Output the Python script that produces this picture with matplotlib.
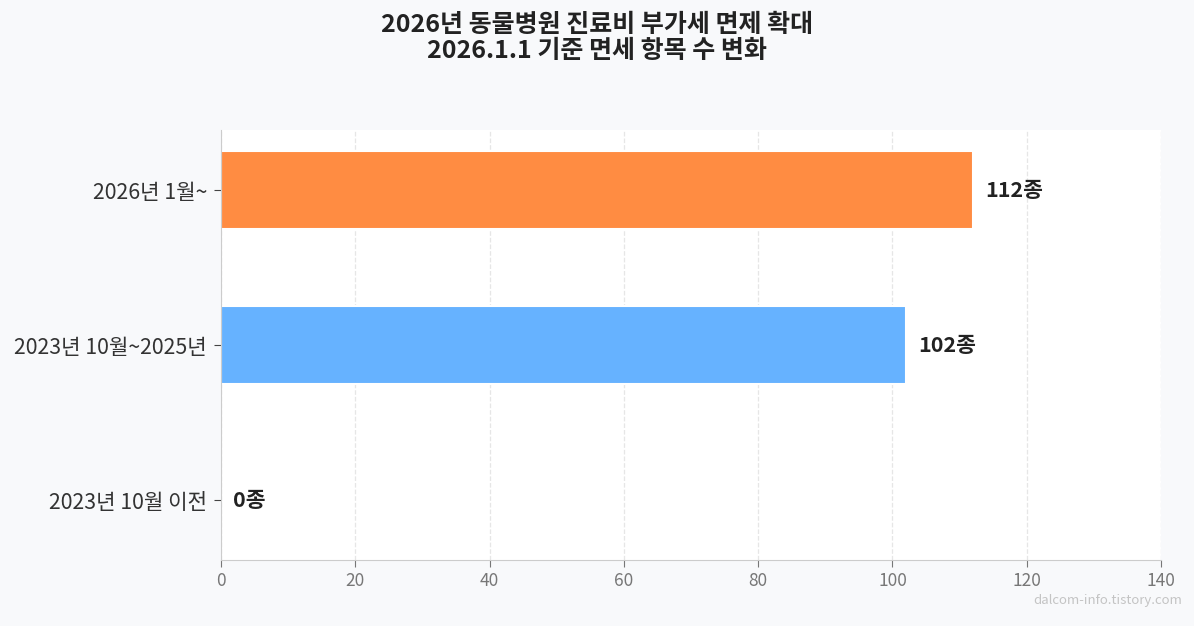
import matplotlib.pyplot as plt

plt.rcParams['font.family'] = ['Noto Sans CJK KR', 'DejaVu Sans']

periods = ["2023년 10월 이전", "2023년 10월~2025년", "2026년 1월~"]
counts = [0, 102, 112]
bar_colors = ["#66B2FF", "#66B2FF", "#FF8C42"]
value_labels = ["0종", "102종", "112종"]

fig = plt.figure(figsize=(11.94, 6.26), dpi=100, facecolor="#F8F9FB")
ax = fig.add_axes([0.1851, 0.1054, 0.7873, 0.6869])
ax.set_facecolor("white")

ypos = range(len(periods))
ax.barh(ypos, counts, height=0.5, color=bar_colors, edgecolor="white",
        linewidth=1.5, zorder=3)

for y, v, lab in zip(ypos, counts, value_labels):
    ax.text(v + 1.8, y, lab, va="center", ha="left", fontsize=15.5,
            fontweight="bold", color="#222222", zorder=4)

ax.set_yticks(list(ypos))
ax.set_yticklabels(periods, fontsize=15.3, color="#333333")
ax.set_xlim(0, 140)
ax.set_ylim(-0.387, 2.387)
ax.set_xticks(range(0, 141, 20))
ax.tick_params(axis="x", labelsize=12.5, colors="#777777", length=5)
ax.tick_params(axis="y", length=5, color="#444444", pad=5)

ax.grid(axis="x", linestyle="--", color="#E6E6E6", linewidth=0.9, zorder=0)
ax.spines["top"].set_visible(False)
ax.spines["right"].set_visible(False)
for side in ("left", "bottom"):
    ax.spines[side].set_color("#CCCCCC")
    ax.spines[side].set_zorder(5)

fig.suptitle("2026년 동물병원 진료비 부가세 면제 확대\n2026.1.1 기준 면세 항목 수 변화",
             fontsize=18, fontweight="bold", color="#222222", y=0.98,
             linespacing=1.15)

fig.text(0.99, 0.03, "dalcom-info.tistory.com", ha="right", va="bottom",
         fontsize=9.5, color="#C4C4C4")

fig.savefig("out.png", dpi=100, facecolor=fig.get_facecolor())
